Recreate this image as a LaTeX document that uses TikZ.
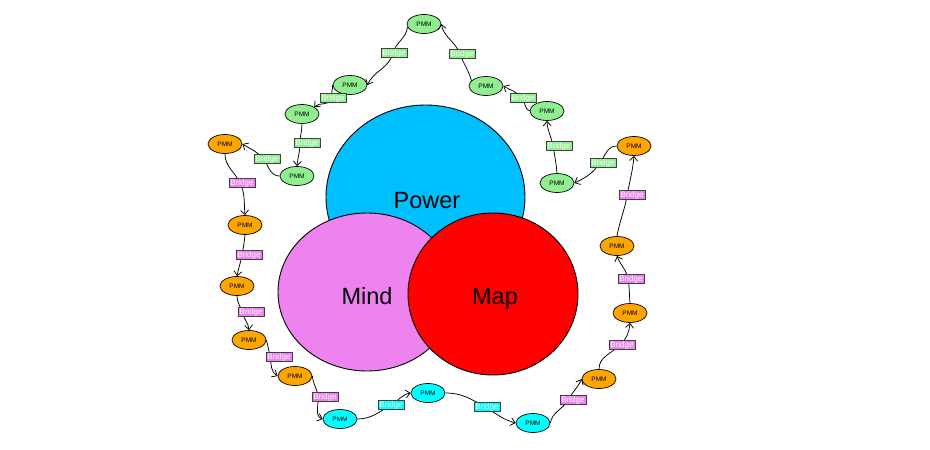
\documentclass[tikz,border=0pt]{standalone}
\usepackage{fontspec}
\setmainfont{Liberation Sans}
\usetikzlibrary{arrows.meta,shapes.geometric}
\definecolor{powerc}{HTML}{00BFFF}
\definecolor{mindc}{HTML}{EE82EE}
\definecolor{mapc}{HTML}{FF0000}
\definecolor{greenc}{HTML}{90EE90}
\definecolor{orangec}{HTML}{FFA500}
\definecolor{cyanc}{HTML}{00FFFF}
\begin{document}
\begin{tikzpicture}[x=1pt,y=-1pt,
  big/.style={ellipse, draw=black, line width=0.9pt, inner sep=0pt},
  bigtext/.style={font=\fontsize{23.5}{28}\selectfont, inner sep=0pt},
  pmm/.style={ellipse, draw=black, line width=0.7pt, minimum width=34pt, minimum height=19pt, inner sep=0pt, font=\fontsize{6.5}{7}\selectfont},
  gpmm/.style={pmm, fill=greenc},
  opmm/.style={pmm, fill=orangec},
  cpmm/.style={pmm, fill=cyanc},
  bridge/.style={rectangle, draw=black!75, line width=0.6pt, text=white, inner xsep=1.5pt, inner ysep=0.8pt, font=\fontsize{8}{9}\selectfont, text height=5.8pt, text depth=1.7pt},
  gbr/.style={bridge, fill=greenc},
  pbr/.style={bridge, fill=mindc},
  cbr/.style={bridge, fill=cyanc},
  conn/.style={draw=black, line width=0.75pt, -{Straight Barb[length=4.5pt,width=8pt]}},
]
\useasboundingbox (0,0) rectangle (930,450);
% big ellipses
\node[big, fill=powerc, minimum width=199pt, minimum height=184pt] (power) at (425.5,197) {};
\node[big, fill=mindc, minimum width=178pt, minimum height=158pt] (mind) at (367,292) {};
\node[big, fill=mapc, minimum width=170pt, minimum height=162pt] (map) at (493,294) {};
\node[bigtext] (powert) at (427,201) {Power};
\node[bigtext] (mindt) at (367,296) {Mind};
\node[bigtext, anchor=base] (mapt) at (495,304) {Map};
% PMM nodes
\node[gpmm] (G1) at (424,24) {PMM};
\node[gpmm] (G2) at (350,85) {PMM};
\node[gpmm] (G3) at (302,114) {PMM};
\node[gpmm] (G4) at (297,176) {PMM};
\node[gpmm] (G5) at (486,86) {PMM};
\node[gpmm] (G6) at (547,111) {PMM};
\node[gpmm] (G7) at (557,183) {PMM};
\node[opmm] (O1) at (225,144) {PMM};
\node[opmm] (O2) at (245,225) {PMM};
\node[opmm] (O3) at (237,286) {PMM};
\node[opmm] (O4) at (249,340) {PMM};
\node[opmm] (O5) at (295,376) {PMM};
\node[cpmm] (C1) at (340,419) {PMM};
\node[cpmm] (C2) at (428,393) {PMM};
\node[cpmm] (C3) at (533,423) {PMM};
\node[opmm] (O9) at (599,379) {PMM};
\node[opmm] (O8) at (630,313) {PMM};
\node[opmm] (O7) at (617,246) {PMM};
\node[opmm] (O6) at (634,146) {PMM};
% waypoints under the labels
\coordinate (w1) at (393,53);
\coordinate (w2) at (331,99);
\coordinate (w3) at (300,143);
\coordinate (w4) at (264,159);
\coordinate (w5) at (240,183);
\coordinate (w6) at (242,255);
\coordinate (w7) at (242,312);
\coordinate (w8) at (270,357);
\coordinate (w9) at (318,397);
\coordinate (w10) at (391,405);
\coordinate (w11) at (485,407);
\coordinate (w12) at (568,400);
\coordinate (w13) at (620,345);
\coordinate (w14) at (628,279);
\coordinate (w15) at (627,196);
\coordinate (w16) at (600,163);
\coordinate (w17) at (553,146);
\coordinate (w18) at (522,98);
\coordinate (w19) at (460,54);
% connectors
\draw[conn] (G1.190) to[out=-95,in=75] (w1) to[out=-105,in=65] (G2.east);
\draw[conn] (G2.west) to[out=-90,in=90] (w2) to[out=-100,in=45] (G3.north east);
\draw[conn] (G3.south) to[out=-90,in=90] (w3) to[out=-90,in=85] (G4.north);
\draw[conn] (G4.west) to[out=180,in=-60] (w4) to[out=135,in=-30] (O1.east);
\draw[conn] (O1.south) to[out=-90,in=115] (w5) to[out=-65,in=95] (O2.north);
\draw[conn] (O2.south) to[out=-95,in=80] (w6) to[out=-100,in=80] (O3.north);
\draw[conn] (O3.south) to[out=-90,in=105] (w7) to[out=-75,in=95] (O4.north);
\draw[conn] (O4.east) to[out=-75,in=100] (w8) to[out=-80,in=150] (O5.west);
\draw[conn] (O5.east) to[out=-85,in=95] (w9) to[out=-85,in=160] (C1.west);
\draw[conn] (C1.east) to[out=0,in=-150] (w10) to[out=30,in=190] (C2.west);
\draw[conn] (C2.east) to[out=0,in=150] (w11) to[out=-30,in=165] (C3.west);
\draw[conn] (C3.east) to[out=80,in=-120] (w12) to[out=60,in=-115] (O9.west);
\draw[conn] (O9.north) to[out=90,in=-135] (w13) to[out=45,in=-95] (O8.south);
\draw[conn] (O8.north) to[out=95,in=-80] (w14) to[out=100,in=-70] (O7.south);
\draw[conn] (O7.north) to[out=80,in=-100] (w15) to[out=80,in=-95] (O6.south);
\draw[conn] (O6.west) to[out=180,in=55] (w16) to[out=-125,in=25] (G7.east);
\draw[conn] (G7.north) to[out=95,in=-80] (w17) to[out=100,in=-88] (G6.south);
\draw[conn] (G6.west) to[out=160,in=-50] (w18) to[out=130,in=-30] (G5.east);
\draw[conn] (G5.160) to[out=105,in=-70] (w19) to[out=110,in=-80] (G1.east);
% bridge labels
\node[gbr] (L1) at (394,53) {Bridge};
\node[gbr] (L2) at (333,98) {Bridge};
\node[gbr] (L3) at (307,143) {Bridge};
\node[gbr] (L4) at (267,159) {Bridge};
\node[pbr] (L5) at (242,183) {Bridge};
\node[pbr] (L6) at (249,255) {Bridge};
\node[pbr] (L7) at (251,312) {Bridge};
\node[pbr] (L8) at (279,357) {Bridge};
\node[pbr] (L9) at (325,397) {Bridge};
\node[cbr] (L10) at (391,405) {Bridge};
\node[cbr] (L11) at (487,407) {Bridge};
\node[pbr] (L12) at (573,400) {Bridge};
\node[pbr] (L13) at (622,345) {Bridge};
\node[pbr] (L14) at (631,279) {Bridge};
\node[pbr] (L15) at (632,195) {Bridge};
\node[gbr] (L16) at (603,163) {Bridge};
\node[gbr] (L17) at (559,146) {Bridge};
\node[gbr] (L18) at (523,98) {Bridge};
\node[gbr] (L19) at (462,54) {Bridge};
\end{tikzpicture}
\end{document}
